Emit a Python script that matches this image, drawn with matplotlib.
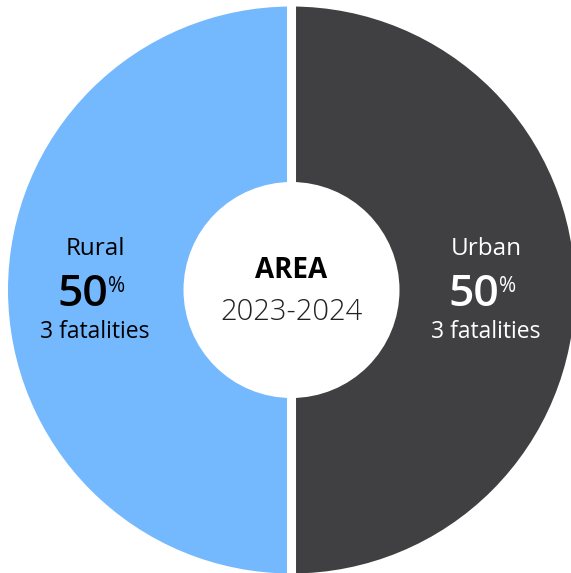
import matplotlib.pyplot as plt
from matplotlib.patches import Wedge, Circle

plt.rcParams['font.family'] = ['Open Sans', 'DejaVu Sans']

# data
categories = ['Urban', 'Rural']
shares = [50, 50]
fatalities = [3, 3]
colors = ['#404042', '#74b8fd']
text_colors = ['white', 'black']
center_title = 'AREA'
center_period = '2023-2024'

W, H = 571, 573
fig = plt.figure(figsize=(W / 100, H / 100), dpi=100)
ax = fig.add_axes([0, 0, 1, 1])
ax.set_xlim(0, W)
ax.set_ylim(H, 0)
ax.axis('off')

cx, cy, r_out, r_in = 291.5, 290, 288, 108

# wedges, starting at 12 o'clock going clockwise (y axis is inverted)
start = -90
total = sum(shares)
for cat, s, c in zip(categories, shares, colors):
    sweep = 360 * s / total
    ax.add_patch(Wedge((cx, cy), r_out, start, start + sweep, facecolor=c,
                       edgecolor='white', linewidth=6.5))
    start += sweep
ax.add_patch(Circle((cx, cy), r_in, facecolor='white', edgecolor='none'))

# labels
label_x = [486, 95]
for x, cat, s, f, tc in zip(label_x, categories, shares, fatalities, text_colors):
    ax.text(x, 249, cat, ha='center', va='center', fontsize=17.5, color=tc)
    ax.text(x - 12, 295, f'{s}', ha='center', va='center', fontsize=32,
            fontweight='semibold', color=tc)
    ax.text(x + 13, 287, '%', ha='left', va='center', fontsize=15, color=tc)
    ax.text(x, 332, f'{f} fatalities', ha='center', va='center', fontsize=16.5, color=tc)

ax.text(cx, 270, center_title, ha='center', va='center', fontsize=20,
        fontweight='bold', color='black')
ax.text(cx, 312, center_period, ha='center', va='center', fontsize=21,
        fontweight='light', color='#222222')

fig.savefig('out.png', dpi=100)
